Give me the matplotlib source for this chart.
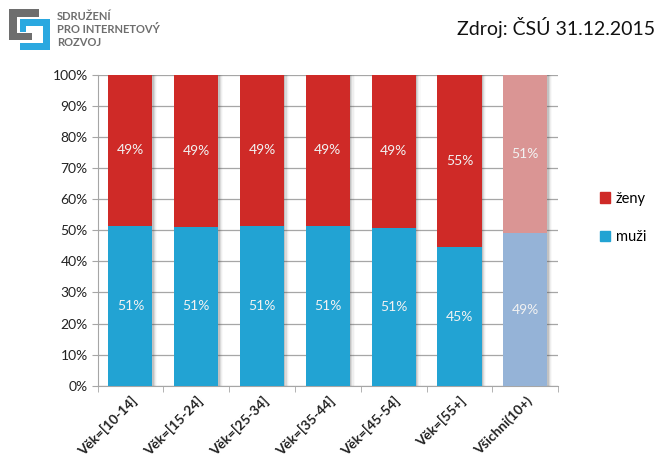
import numpy as np
from matplotlib import pyplot as plt
from matplotlib.patches import Rectangle, Patch
from matplotlib.ticker import PercentFormatter, FixedLocator

plt.rcParams['font.family'] = ['Lato', 'DejaVu Sans']

categories = ['Věk=[10-14]', 'Věk=[15-24]', 'Věk=[25-34]', 'Věk=[35-44]',
              'Věk=[45-54]', 'Věk=[55+]', 'Všichni(10+)']
muzi = [51.4, 51.0, 51.4, 51.4, 50.9, 44.5, 49.0]
zeny = [100 - m for m in muzi]
muzi_labels = ['51%', '51%', '51%', '51%', '51%', '45%', '49%']
zeny_labels = ['49%', '49%', '49%', '49%', '49%', '55%', '51%']

RED = '#CF2A27'
BLUE = '#22A3D3'
RED_LIGHT = '#DA9594'
BLUE_LIGHT = '#95B3D7'

fig = plt.figure(figsize=(6.59, 4.62), dpi=100)
ax = fig.add_axes([0.148, 0.165, 0.699, 0.673])

x = np.arange(len(categories))
w = 0.67
c_m = [BLUE] * 6 + [BLUE_LIGHT]
c_z = [RED] * 6 + [RED_LIGHT]

# soft shadow to the right of bars
for k, a in enumerate([0.18, 0.12, 0.07, 0.03]):
    ax.bar(x + 0.02 + k * 0.018, [100] * len(x), w, color='#555555', alpha=a,
           zorder=2, linewidth=0)

ax.bar(x, muzi, w, color=c_m, zorder=3, linewidth=0)
ax.bar(x, zeny, w, bottom=muzi, color=c_z, zorder=3, linewidth=0)

for i in range(len(x)):
    ax.text(x[i], muzi[i] / 2, muzi_labels[i], ha='center', va='center',
            color='#F2F2F2', fontsize=10, zorder=4)
    ax.text(x[i], muzi[i] + zeny[i] / 2, zeny_labels[i], ha='center', va='center',
            color='#F2F2F2', fontsize=10, zorder=4)

ax.set_xlim(-0.5, len(x) - 0.5)
ax.set_ylim(0, 100)
ax.set_yticks(np.arange(0, 101, 10))
ax.yaxis.set_major_formatter(PercentFormatter(decimals=0))
ax.grid(axis='y', color='#A6A6A6', linewidth=0.9, zorder=0)
ax.set_axisbelow(True)

ax.set_xticks(x)
ax.set_xticklabels(categories, rotation=45, ha='right', rotation_mode='anchor',
                   fontweight='bold', fontsize=9.8, color='#222222')
ax.tick_params(axis='x', length=0, pad=6)
ax.xaxis.set_minor_locator(FixedLocator(np.arange(-0.5, len(x), 1.0)))
ax.tick_params(axis='x', which='minor', length=4, color='#A6A6A6')
ax.tick_params(axis='y', length=4, color='#A6A6A6', labelsize=10,
               labelcolor='#222222', pad=3)

for s in ['top', 'right']:
    ax.spines[s].set_visible(False)
for s in ['left', 'bottom']:
    ax.spines[s].set_color('#A6A6A6')

handles = [Patch(color=RED, label='ženy'), Patch(color=BLUE, label='muži')]
fig.legend(handles=handles, loc='center left', bbox_to_anchor=(0.89, 0.528),
           frameon=False, fontsize=10.5, handlelength=0.7, handleheight=0.7,
           handletextpad=0.4, labelspacing=1.7)

fig.text(0.994, 0.94, 'Zdroj: ČSÚ 31.12.2015', ha='right', va='center',
         fontsize=14, color='#111111')

# logo
H = 462.0
W = 659.0
def box(x0, y0, x1, y1, col):
    fig.patches.append(Rectangle((x0 / W, 1 - y1 / H), (x1 - x0) / W, (y1 - y0) / H,
                                 transform=fig.transFigure, color=col, linewidth=0))

GRAY = '#6E6E6E'
LBLUE = '#2AA8E0'
box(9, 9, 39, 17, GRAY)
box(9, 9, 17, 40, GRAY)
box(9, 33, 32, 40, GRAY)
box(20, 19, 50, 26, LBLUE)
box(43, 19, 50, 50, LBLUE)
box(20, 43, 50, 50, LBLUE)
box(20, 19, 26, 32, LBLUE)

for t, yy in [('SDRUŽENÍ', 17), ('PRO INTERNETOVÝ', 29.5), ('ROZVOJ', 42)]:
    fig.text(57 / W, 1 - yy / H, t, ha='left', va='center', fontsize=8,
             color='#6E6E6E', fontweight='bold')

fig.savefig('out.png', dpi=100)
